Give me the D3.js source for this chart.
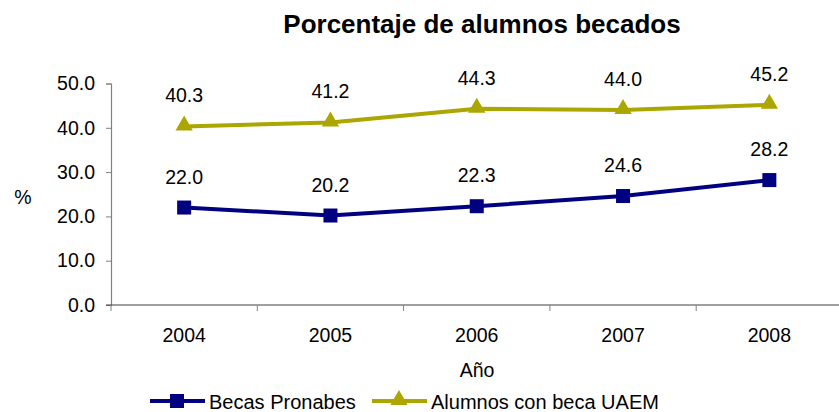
<!DOCTYPE html>
<html>
<head>
<meta charset="utf-8">
<script src="https://cdn.jsdelivr.net/npm/d3@7"></script>
<style>
  body { margin: 0; background: #fff; }
  text { font-family: "Liberation Sans", Arial, sans-serif; fill: #000; }
</style>
</head>
<body>
<div id="chart_container"></div>
<script>
// data
var years = ["2004", "2005", "2006", "2007", "2008"];
var becasPronabes = [22.0, 20.2, 22.3, 24.6, 28.2];
var becaUAEM = [40.3, 41.2, 44.3, 44.0, 45.2];
var yTicks = [0, 10, 20, 30, 40, 50];
var seriesNames = ["Becas Pronabes", "Alumnos con beca UAEM"];

var W = 839, H = 412;
var fs = "19.5px";

var svg = d3.select("#chart_container").append("svg")
    .attr("width", W)
    .attr("height", H);

// set the ranges
var x = d3.scaleBand().domain(years).range([111, 842.5]);
var y = d3.scaleLinear().domain([0, 50]).range([305, 83.5]);

// title
svg.append("text")
    .attr("x", 482).attr("y", 33)
    .attr("text-anchor", "middle")
    .style("font-size", "26px")
    .style("font-weight", "bold")
    .text("Porcentaje de alumnos becados");

// y axis
var yAxis = svg.append("g")
    .attr("transform", "translate(111,0)")
    .call(d3.axisLeft(y).tickValues(yTicks).tickSize(5).tickPadding(11)
        .tickFormat(d3.format(".1f")));
yAxis.select(".domain").attr("stroke", "#808080").attr("stroke-width", 1.2);
yAxis.selectAll(".tick line").attr("stroke", "#808080");
yAxis.selectAll("text").style("font-size", fs).attr("fill", "#000");

// x axis (ticks between categories)
var xAxis = svg.append("g").attr("transform", "translate(0,305)");
xAxis.append("line")
    .attr("x1", 106).attr("x2", W)
    .attr("stroke", "#404040").attr("stroke-width", 1.2);
var edges = years.map(function(d) { return x(d); });
edges.push(x(years[years.length - 1]) + x.bandwidth());
xAxis.selectAll(".xtick").data(edges).enter().append("line")
    .attr("x1", function(d) { return d; })
    .attr("x2", function(d) { return d; })
    .attr("y1", 0).attr("y2", 6)
    .attr("stroke", "#808080");
xAxis.selectAll(".xlabel").data(years).enter().append("text")
    .attr("x", function(d) { return x(d) + x.bandwidth() / 2; })
    .attr("y", 37)
    .attr("text-anchor", "middle")
    .style("font-size", fs)
    .text(function(d) { return d; });

// axis titles
svg.append("text")
    .attr("x", 477).attr("y", 377)
    .attr("text-anchor", "middle")
    .style("font-size", fs)
    .text("Año");
svg.append("text")
    .attr("x", 23).attr("y", 204)
    .attr("text-anchor", "middle")
    .style("font-size", fs)
    .text("%");

var cx = function(d, i) { return x(years[i]) + x.bandwidth() / 2; };
var line = d3.line()
    .x(function(d, i) { return cx(d, i); })
    .y(function(d) { return y(d); });

var tri = d3.symbol().type(d3.symbolTriangle).size(130);

var series = [
    { name: seriesNames[0], values: becasPronabes, color: "#000080", marker: "square" },
    { name: seriesNames[1], values: becaUAEM, color: "#ABA600", marker: "triangle" }
];

series.forEach(function(s) {
    svg.append("path")
        .datum(s.values)
        .attr("fill", "none")
        .attr("stroke", s.color)
        .attr("stroke-width", 4)
        .attr("d", line);

    var g = svg.append("g");
    if (s.marker === "square") {
        g.selectAll("rect").data(s.values).enter().append("rect")
            .attr("x", function(d, i) { return cx(d, i) - 7; })
            .attr("y", function(d) { return y(d) - 7; })
            .attr("width", 14).attr("height", 14)
            .attr("fill", s.color);
    } else {
        g.selectAll("path").data(s.values).enter().append("path")
            .attr("d", tri)
            .attr("transform", function(d, i) {
                return "translate(" + cx(d, i) + "," + (y(d) - 1) + ")";
            })
            .attr("fill", s.color);
    }

    // data labels
    svg.append("g").selectAll("text").data(s.values).enter().append("text")
        .attr("x", function(d, i) { return cx(d, i); })
        .attr("y", function(d) { return y(d) - 24; })
        .attr("text-anchor", "middle")
        .style("font-size", fs)
        .text(function(d) { return d.toFixed(1); });
});

// legend
var legend = svg.append("g").attr("transform", "translate(0,401)");
var lx = [150, 372];
series.forEach(function(s, i) {
    legend.append("line")
        .attr("x1", lx[i]).attr("x2", lx[i] + 55)
        .attr("stroke", s.color).attr("stroke-width", 4);
    if (s.marker === "square") {
        legend.append("rect")
            .attr("x", lx[i] + 20).attr("y", -7)
            .attr("width", 14).attr("height", 14)
            .attr("fill", s.color);
    } else {
        legend.append("path")
            .attr("d", tri)
            .attr("transform", "translate(" + (lx[i] + 27) + ",-1)")
            .attr("fill", s.color);
    }
    legend.append("text")
        .attr("x", lx[i] + 59).attr("y", 8)
        .style("font-size", "20px")
        .text(s.name);
});
</script>
</body>
</html>
